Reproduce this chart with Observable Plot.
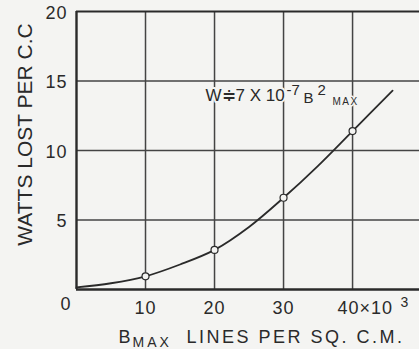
<!DOCTYPE html>
<html><head><meta charset="utf-8">
<script src="https://cdn.jsdelivr.net/npm/d3@7"></script>
<script src="https://cdn.jsdelivr.net/npm/@observablehq/plot@0.6"></script>
<style>
html,body{margin:0;padding:0;background:#f4f4f2;}
svg{display:block;}
</style></head><body><div id="chart"></div>
<script>
// Curve (B in thousands of lines per sq cm, W in watts per cc)
const bCurve = [0, 5, 10, 15, 20, 25, 30, 35, 40, 45.8];
const wCurve = [0.15, 0.45, 0.95, 1.8, 2.85, 4.5, 6.6, 8.9, 11.4, 14.3];
// Marked (circled) points
const bMarked = [10, 20, 30, 40];
const wMarked = [0.95, 2.85, 6.6, 11.4];
// Axes
const xTicks = [10, 20, 30];
const xTickLabels = ["10", "20", "30"];
const xLastTick = [40];
const xLastTickLabel = ["40×10"];
const xLastTickSup = ["3"];
const yTicks = [5, 10, 15, 20];
const yTickLabels = ["5", "10", "15", "20"];
const originLabel = ["0"];
const xGrid = [10, 20, 30, 40];
const yGrid = [5, 10, 15];
const yTitle = ["WATTS LOST PER C.C"];
const xTitleB = ["B"], xTitleSub = ["MAX"], xTitleRest = ["LINES PER SQ. C.M."];
const eqMain = ["W≑7 X 10"], eqExp = ["-7"], eqB = ["B"], eqSq = ["2"], eqSub = ["MAX"];

const bg = "#f4f4f2", ink = "#2a2a2a", grid = "#444";
const idx = d3.range(bCurve.length), idxM = d3.range(bMarked.length);

const chart = Plot.plot({
  width: 419, height: 349,
  marginLeft: 76, marginRight: 0, marginTop: 11, marginBottom: 60,
  x: {domain: [0, 49.7], axis: null},
  y: {domain: [0, 20], axis: null},
  style: {background: bg, fontFamily: "'Liberation Sans', Arial, sans-serif", color: ink, overflow: "visible"},
  marks: [
    Plot.ruleX(xGrid, {stroke: grid, strokeWidth: 1.5}),
    Plot.ruleY(yGrid, {stroke: grid, strokeWidth: 1.5}),
    Plot.ruleY([0], {stroke: ink, strokeWidth: 2.6}),
    Plot.ruleY([20], {stroke: ink, strokeWidth: 2.2}),
    Plot.ruleX([0], {stroke: ink, strokeWidth: 2.4}),
    Plot.line(idx, {x: i => bCurve[i], y: i => wCurve[i], curve: "catmull-rom", stroke: ink, strokeWidth: 1.8}),
    Plot.dot(idxM, {x: i => bMarked[i], y: i => wMarked[i], r: 3.5, stroke: ink, strokeWidth: 1.2, fill: bg}),
    // equation annotation (main text first, pieces after)
    Plot.text(eqMain, {x: 20, y: 14, dx: -9, dy: 1, textAnchor: "start", fontSize: 17, fill: ink, stroke: bg, strokeWidth: 4}),
    Plot.text(eqB, {x: 20, y: 14, dx: 89, dy: 3, textAnchor: "start", fontSize: 15, fill: ink, stroke: bg, strokeWidth: 3}),
    Plot.text(eqExp, {x: 20, y: 14, dx: 72, dy: -5, textAnchor: "start", fontSize: 15, fill: ink, stroke: bg, strokeWidth: 2}),
    Plot.text(eqSq, {x: 20, y: 14, dx: 103, dy: -5, textAnchor: "start", fontSize: 15, fill: ink, stroke: bg, strokeWidth: 2}),
    Plot.text(eqSub, {x: 20, y: 14, dx: 118, dy: 7, textAnchor: "start", fontSize: 10, fill: ink, stroke: bg, strokeWidth: 3}),
    // tick labels
    Plot.text(xTicks, {x: d => d, text: (d, i) => xTickLabels[i], frameAnchor: "bottom", lineAnchor: "middle", dy: 19, fontSize: 18, fill: ink}),
    Plot.text(xLastTick, {x: d => d, text: (d, i) => xLastTickLabel[i], frameAnchor: "bottom", lineAnchor: "middle", dy: 19, dx: -15, textAnchor: "start", fontSize: 18, fill: ink}),
    Plot.text(xLastTick, {x: d => d, text: (d, i) => xLastTickSup[i], frameAnchor: "bottom", lineAnchor: "middle", dy: 13, dx: 48, textAnchor: "start", fontSize: 14, fill: ink}),
    Plot.text(yTicks, {y: d => d, text: (d, i) => yTickLabels[i], frameAnchor: "left", dx: -9, dy: 1.5, textAnchor: "end", fontSize: 18, fill: ink}),
    Plot.text(originLabel, {frameAnchor: "bottom-left", lineAnchor: "middle", dx: -11, dy: 15, textAnchor: "middle", fontSize: 18, fill: ink}),
    // axis titles
    Plot.text(yTitle, {frameAnchor: "left", dx: -51, dy: -16, rotate: -90, textAnchor: "middle", fontSize: 21, fill: ink}),
    Plot.text(xTitleB, {frameAnchor: "bottom-left", lineAnchor: "middle", dx: 42, dy: 48, textAnchor: "start", fontSize: 18, fill: ink}),
    Plot.text(xTitleSub, {frameAnchor: "bottom-left", lineAnchor: "middle", dx: 56, dy: 53, textAnchor: "start", fontSize: 14, fill: ink}),
    Plot.text(xTitleRest, {frameAnchor: "bottom-left", lineAnchor: "middle", dx: 110, dy: 48, textAnchor: "start", fontSize: 18, fill: ink})
  ]
});
document.getElementById("chart").append(chart);
// letter spacing tweaks, keyed by text content and size (after the chart is in the page)
d3.select(chart).selectAll("text").each(function () {
  const t = this.textContent;
  const fs = parseFloat(getComputedStyle(this).fontSize) || 0;
  if (["10", "20", "30", "40×10", "15", "5"].includes(t) && fs >= 18) this.style.letterSpacing = "1px";
  if (t === "LINES PER SQ. C.M.") this.style.letterSpacing = "2.5px";
  if (t === "MAX") this.style.letterSpacing = fs >= 12 ? "3px" : "1.5px";
});
</script></body></html>
